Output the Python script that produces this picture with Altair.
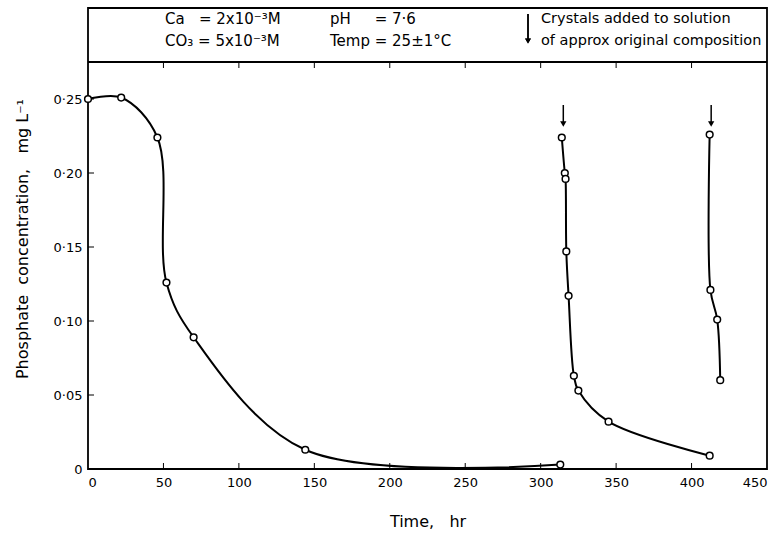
import altair as alt
import pandas as pd

# ---- data ----
s1_t = [0, 22, 46, 52, 70, 144, 313]
s1_v = [0.250, 0.251, 0.224, 0.126, 0.089, 0.013, 0.003]

s2_t = [314, 316, 316.5, 317, 318.5, 322, 325, 345, 412]
s2_v = [0.224, 0.200, 0.196, 0.147, 0.117, 0.063, 0.053, 0.032, 0.009]

s3_t = [412, 412.5, 417, 419]
s3_v = [0.226, 0.121, 0.101, 0.060]

crystal_times = [315, 413]

x_ticks = [0, 50, 100, 150, 200, 250, 300, 350, 400, 450]
y_ticks = [0, 0.05, 0.10, 0.15, 0.20, 0.25]

NB = "\u00a0"
header_line1 = ["Ca" + NB * 3 + "= 2x10⁻³M", "pH" + NB * 5 + "= 7·6", "Crystals added to solution"]
header_line2 = ["CO₃ = 5x10⁻³M", "Temp = 25±1°C", "of approx original composition"]

x_title = "Time," + NB * 3 + "hr"
y_title = "Phosphate" + NB * 2 + "concentration," + NB * 3 + "mg" + NB + "L⁻¹"

# ---- build tables ----
rows = []
for name, ts, vs in [("s1", s1_t, s1_v), ("s2", s2_t, s2_v), ("s3", s3_t, s3_v)]:
    for i, (t, v) in enumerate(zip(ts, vs)):
        rows.append({"series": name, "t": t, "v": v, "i": i})
df = pd.DataFrame(rows)

W, H = 679, 461
SEP = 54
FONT = "DejaVu Sans"

xs = alt.Scale(domain=[0, 450], nice=False, zero=False)
ys = alt.Scale(domain=[0, 0.3115], nice=False, zero=False)

ylab_expr = "datum.value == 0 ? '0' : replace(format(datum.value, '.2f'), '.', '·')"

base = alt.Chart(df)

lines = base.mark_line(interpolate="catmull-rom", color="black", strokeWidth=2).encode(
    x=alt.X("t:Q", scale=xs,
            axis=alt.Axis(values=x_ticks, title=x_title, tickSize=0, domain=False, grid=False,
                          labelPadding=7, labelFontSize=13, labelFont=FONT, labelColor="black",
                          titleFont=FONT, titleFontSize=16, titleFontWeight="normal",
                          titleColor="black", titlePadding=24)),
    y=alt.Y("v:Q", scale=ys,
            axis=alt.Axis(values=y_ticks, title=y_title, tickSize=0, domain=False, grid=False,
                          labelExpr=ylab_expr, labelPadding=6, labelFontSize=13, labelFont=FONT,
                          labelColor="black", titleFont=FONT, titleFontSize=16,
                          titleFontWeight="normal", titleColor="black", titlePadding=23)),
    detail="series:N",
    order="i:Q",
)

points = base.mark_point(filled=True, fill="white", stroke="black", strokeWidth=1.5, size=45, opacity=1).encode(
    x=alt.X("t:Q", scale=xs), y=alt.Y("v:Q", scale=ys)
)

ydf = pd.DataFrame({"v": y_ticks[1:]})
ytick_marks = alt.Chart(ydf).mark_rule(color="black", strokeWidth=1).encode(
    y=alt.Y("v:Q", scale=ys), x=alt.value(0), x2=alt.value(6)
)

xdf = pd.DataFrame({"t": x_ticks[1:-1]})
xtick_marks = alt.Chart(xdf).mark_rule(color="black", strokeWidth=1).encode(
    x=alt.X("t:Q", scale=xs), y=alt.value(H), y2=alt.value(H - 6)
)
toptick_marks = alt.Chart(xdf).mark_rule(color="black", strokeWidth=1).encode(
    x=alt.X("t:Q", scale=xs), y=alt.value(SEP), y2=alt.value(SEP + 6)
)

sep_rule = alt.Chart(xdf).mark_rule(color="black", strokeWidth=1.8).encode(
    x=alt.value(0), x2=alt.value(W), y=alt.value(SEP)
)

cdf = pd.DataFrame({"t": crystal_times})
crys_rule = alt.Chart(cdf).mark_rule(color="black", strokeWidth=1.5).encode(
    x=alt.X("t:Q", scale=xs), y=alt.value(97), y2=alt.value(114)
)
crys_head = alt.Chart(cdf).mark_point(shape="triangle-down", filled=True, color="black", size=40, opacity=1).encode(
    x=alt.X("t:Q", scale=xs), y=alt.value(116)
)

hdr_arrow = alt.Chart(cdf).mark_rule(color="black", strokeWidth=1.5).encode(
    x=alt.value(440), y=alt.value(6), y2=alt.value(32)
)
hdr_head = alt.Chart(cdf).mark_point(shape="triangle-down", filled=True, color="black", size=35, opacity=1).encode(
    x=alt.value(440), y=alt.value(33)
)

def txt(s, x, y, size=15):
    return alt.Chart(pd.DataFrame({"s": [s]})).mark_text(
        align="left", baseline="middle", font=FONT, fontSize=size, color="black"
    ).encode(text="s:N", x=alt.value(x), y=alt.value(y))

cols = [77, 242, 453]
sizes = [15, 15, 14.5]
texts = [txt(s, x, 11, z) for s, x, z in zip(header_line1, cols, sizes)] + \
        [txt(s, x, 33, z) for s, x, z in zip(header_line2, cols, sizes)]

chart = alt.layer(
    sep_rule, toptick_marks, xtick_marks, ytick_marks,
    lines, points, crys_rule, crys_head, hdr_arrow, hdr_head, *texts
).properties(
    width=W, height=H,
    autosize=alt.AutoSizeParams(type="none"),
    padding={"left": 88, "top": 8, "right": 14, "bottom": 64},
).configure_view(stroke="black", strokeWidth=1.8)

chart.save("out.html", embed_options={"renderer": "svg", "actions": False})
